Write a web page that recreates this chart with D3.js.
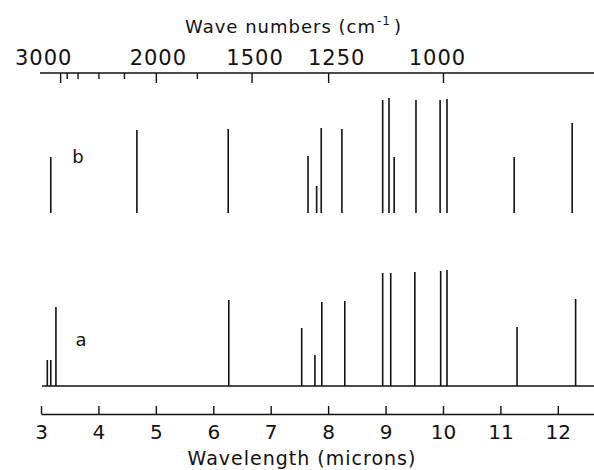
<!DOCTYPE html>
<html>
<head>
<meta charset="utf-8">
<script src="https://cdn.jsdelivr.net/npm/d3@7"></script>
<style>
  body { margin: 0; background: #fff; }
  text { font-family: "DejaVu Sans", sans-serif; fill: #111; }
</style>
</head>
<body>
<svg id="chart"></svg>
<script>
// line positions (microns) and relative heights
const wavelengthsB = [3.17, 4.67, 6.26, 7.65, 7.80, 7.88, 8.24, 8.95, 9.06, 9.15, 9.53, 9.95, 10.07, 11.24, 12.25];
const heightsB     = [56, 83, 84, 57, 27, 85, 84, 113, 115, 56, 113, 113, 114, 56, 90];

const wavelengthsA = [3.11, 3.17, 3.26, 6.27, 7.54, 7.77, 7.89, 8.29, 8.95, 9.09, 9.51, 9.96, 10.07, 11.29, 12.31];
const heightsA     = [26, 26, 79, 86, 58, 31, 84, 85, 113, 113, 114, 115, 116, 59, 87];

const micronTicks = [3, 4, 5, 6, 7, 8, 9, 10, 11, 12];
const waveMajor = [3000, 2000, 1500, 1250, 1000];
const waveMinor = [2900, 2750, 2500, 2250, 1750];

const width = 594, height = 470;

const svg = d3.select("#chart")
    .attr("width", width)
    .attr("height", height);

const x = d3.scaleLinear()
    .domain([3, 12.63])
    .range([41, 594]);

const y = d3.scaleLinear()
    .domain([0, 120])
    .range([0, 120]);

// hand lettering is not quite centred on the ticks
const labelShift = { 3000: -17, 2000: 2, 1500: 3, 1250: 8, 1000: -6 };

// top axis: wave numbers, ticks hanging down
const topAxis = svg.append("g")
    .attr("transform", "translate(0,73)")
    .call(d3.axisTop(x)
      .tickValues(waveMajor.map(w => 1e4 / w))
      .tickFormat(d => Math.round(1e4 / d))
      .tickSize(-10)
      .tickSizeOuter(0)
      .tickPadding(8));

topAxis.select(".domain").attr("d", "M40,0H594");
topAxis.selectAll("text")
    .style("font-size", "21px")
    .style("letter-spacing", "1px")
    .attr("dx", d => labelShift[Math.round(1e4 / d)] || 0);

svg.append("g")
    .attr("transform", "translate(0,73)")
    .call(d3.axisBottom(x)
      .tickValues(waveMinor.map(w => 1e4 / w))
      .tickFormat("")
      .tickSize(6)
      .tickSizeOuter(0))
  .select(".domain").remove();

const title = svg.append("text")
    .attr("x", 185)
    .attr("y", 33)
    .style("font-size", "18px")
    .style("letter-spacing", "1px");
title.append("tspan").text("Wave numbers (cm");
title.append("tspan")
    .attr("dy", -8)
    .attr("dx", 1)
    .style("font-size", "12px")
    .text("-1");
title.append("tspan")
    .attr("dy", 8)
    .attr("dx", 3)
    .text(")");

// bottom axis: wavelength, ticks pointing up
const bottomAxis = svg.append("g")
    .attr("transform", "translate(0,414)")
    .call(d3.axisBottom(x)
      .tickValues(micronTicks)
      .tickSize(-8)
      .tickSizeOuter(0)
      .tickPadding(11));

bottomAxis.selectAll("text")
    .style("font-size", "20px");

svg.selectAll(".domain, .tick line")
    .attr("stroke", "#111")
    .attr("stroke-width", 1.4);

svg.append("text")
    .attr("x", 302)
    .attr("y", 465)
    .attr("text-anchor", "middle")
    .style("font-size", "19px")
    .style("letter-spacing", "1px")
    .text("Wavelength (microns)");

// spectrum b (no baseline drawn)
const baseB = 213;
svg.append("g")
  .selectAll("line")
  .data(wavelengthsB)
  .join("line")
    .attr("x1", d => x(d))
    .attr("x2", d => x(d))
    .attr("y1", baseB)
    .attr("y2", (d, i) => baseB - y(heightsB[i]))
    .attr("stroke", "#111")
    .attr("stroke-width", 1.6);

svg.append("text")
    .attr("x", 78)
    .attr("y", 163)
    .attr("text-anchor", "middle")
    .style("font-size", "18px")
    .text("b");

// spectrum a
const baseA = 386;
svg.append("line")
    .attr("x1", 42)
    .attr("x2", 594)
    .attr("y1", baseA)
    .attr("y2", baseA)
    .attr("stroke", "#111")
    .attr("stroke-width", 1.6);

svg.append("g")
  .selectAll("line")
  .data(wavelengthsA)
  .join("line")
    .attr("x1", d => x(d))
    .attr("x2", d => x(d))
    .attr("y1", baseA)
    .attr("y2", (d, i) => baseA - y(heightsA[i]))
    .attr("stroke", "#111")
    .attr("stroke-width", 1.6);

svg.append("text")
    .attr("x", 81)
    .attr("y", 346)
    .attr("text-anchor", "middle")
    .style("font-size", "18px")
    .text("a");
</script>
</body>
</html>
